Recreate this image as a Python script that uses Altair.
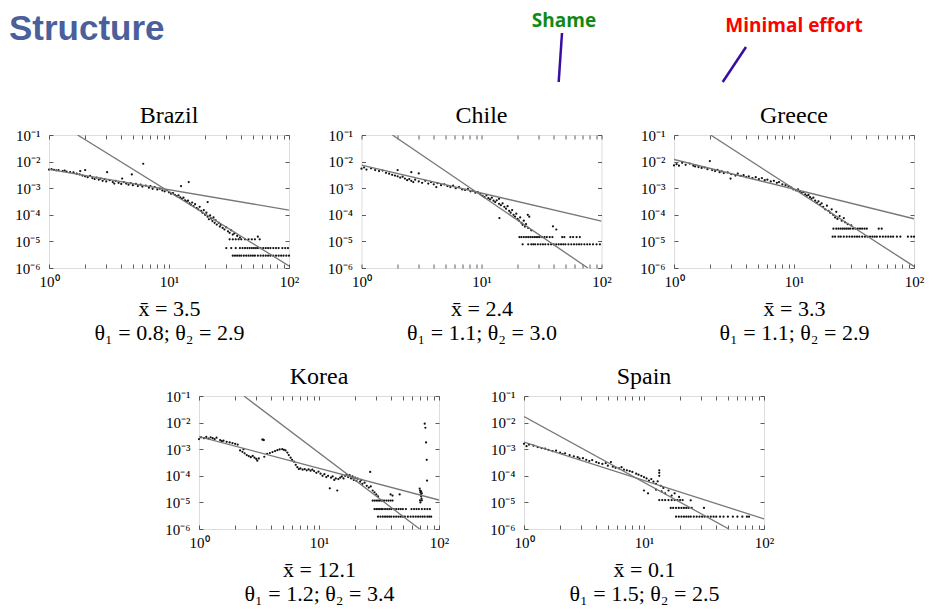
import altair as alt
import pandas as pd

# ---------------- data ----------------
COUNTRIES = ["Brazil", "Chile", "Greece", "Korea", "Spain"]
MEAN_X = ["3.5", "2.4", "3.3", "12.1", "0.1"]
THETA1 = ["0.8", "1.1", "1.1", "1.2", "1.5"]
THETA2 = ["2.9", "3.0", "2.9", "3.4", "2.5"]

X_TICKS = [1, 2, 3, 4, 5, 6, 7, 8, 9, 10, 20, 30, 40, 50, 60, 70, 80, 90, 100]
Y_TICKS = [1e-6, 1e-5, 1e-4, 1e-3, 1e-2, 1e-1]

# fitted power-law lines (end points, as drawn)
FIT1 = {
    "Brazil": [(1, 5.1e-3), (100, 1.5e-4)],
    "Chile": [(1, 7.4e-3), (100, 5.8e-5)],
    "Greece": [(1, 1.2e-2), (100, 7.1e-5)],
    "Korea": [(1, 3.0e-3), (100, 1.23e-5)],
    "Spain": [(1, 1.85e-3), (100, 2.4e-6)],
}
FIT2 = {
    "Brazil": [(1.73, 0.1), (100, 1.2e-6)],
    "Chile": [(1.81, 0.1), (77, 1e-6)],
    "Greece": [(2.02, 0.1), (100, 1.15e-6)],
    "Korea": [(2.37, 0.1), (69, 1e-6)],
    "Spain": [(1, 1.7e-2), (51, 1e-6)],
}

BRAZIL_PTS = [
    (1.0, 5.0e-3), (1.05, 5.2e-3), (1.1, 4.9e-3), (1.15, 4.7e-3), (1.2, 4.8e-3), (1.3, 4.4e-3),
    (1.35, 4.6e-3), (1.4, 4.2e-3), (1.5, 4.0e-3), (1.6, 3.9e-3), (1.7, 3.5e-3), (1.8, 3.3e-3),
    (1.82, 4.4e-3), (1.9, 3.0e-3), (2.0, 2.8e-3), (2.0, 4.8e-3), (2.1, 2.6e-3), (2.2, 2.9e-3),
    (2.3, 2.4e-3), (2.4, 2.2e-3), (2.5, 2.5e-3), (2.6, 2.1e-3), (2.7, 2.3e-3), (2.8, 1.9e-3),
    (2.9, 2.2e-3), (3.05, 4.0e-3), (3.0, 1.8e-3), (3.2, 2.0e-3), (3.4, 1.7e-3), (3.5, 1.5e-3),
    (3.6, 1.9e-3), (3.8, 1.6e-3), (4.0, 1.45e-3), (4.07, 2.3e-3), (4.2, 1.7e-3), (4.4, 1.5e-3),
    (4.6, 1.35e-3), (4.9, 3.3e-3), (4.8, 1.55e-3), (5.0, 1.3e-3), (5.3, 1.45e-3), (5.5, 1.2e-3),
    (5.8, 1.35e-3), (6.1, 8.3e-3), (6.0, 1.15e-3), (6.4, 1.25e-3), (6.8, 1.05e-3), (7.0, 1.2e-3),
    (7.3, 9.5e-4), (7.6, 1.1e-3), (8.0, 9.0e-4), (8.4, 9.6e-4), (8.8, 8.2e-4), (9.2, 7.6e-4),
    (9.6, 8.4e-4), (10, 7.0e-4), (10.4, 6.2e-4), (10.8, 6.6e-4), (11.2, 5.6e-4), (11.6, 5.0e-4),
    (12.0, 5.4e-4), (12.6, 1.2e-3), (12.4, 4.5e-4), (12.8, 4.0e-4), (13.2, 4.4e-4), (13.6, 3.5e-4),
    (14.0, 3.1e-4), (14.6, 1.7e-3), (14.4, 3.4e-4), (14.8, 2.7e-4), (15.2, 2.4e-4), (15.6, 2.9e-4),
    (16.0, 2.1e-4), (16.5, 2.5e-4), (17.0, 1.8e-4), (17.5, 1.6e-4), (18.0, 2.0e-4), (18.5, 1.4e-4),
    (19.0, 1.2e-4), (19.5, 1.5e-4), (20, 1.0e-4), (20.5, 1.2e-4), (21, 3.0e-4), (21, 8.5e-5),
    (21.5, 6.8e-5), (22, 9.5e-5), (22.5, 7.2e-5), (23, 5.8e-5), (23.5, 8.0e-5), (24, 5.0e-5),
    (24.5, 6.2e-5), (25, 4.3e-5), (26, 5.0e-5), (26.5, 3.6e-5), (27, 4.2e-5), (28, 3.2e-5),
    (29, 2.8e-5), (30, 3.4e-5), (31, 2.4e-5), (32, 2.1e-5), (33, 2.6e-5), (34, 1.8e-5),
    (35, 2.0e-5), (37, 1.6e-5), (39, 1.4e-5), (55, 1.5e-5), (93, 5.6e-6),
    (32, 1.2e-5), (34, 1.2e-5), (36, 1.2e-5), (38, 1.2e-5), (40, 1.2e-5), (43, 1.2e-5),
    (46, 1.2e-5), (49, 1.2e-5), (52, 1.2e-5), (57, 1.2e-5),
    (30, 5.6e-6), (33, 5.6e-6), (36, 5.6e-6), (39, 5.6e-6), (41, 5.6e-6), (43, 5.6e-6),
    (45, 5.6e-6), (47, 5.6e-6), (49, 5.6e-6), (51, 5.6e-6), (53, 5.6e-6), (55, 5.6e-6),
    (58, 5.6e-6), (61, 5.6e-6), (64, 5.6e-6), (67, 5.6e-6), (70, 5.6e-6), (74, 5.6e-6),
    (78, 5.6e-6), (82, 5.6e-6), (88, 5.6e-6), (98, 5.6e-6),
    (34, 2.9e-6), (35.5, 2.9e-6), (37, 2.9e-6), (38.5, 2.9e-6), (40, 2.9e-6), (42, 2.9e-6),
    (44, 2.9e-6), (46, 2.9e-6), (48, 2.9e-6), (50, 2.9e-6), (52, 2.9e-6), (55, 2.9e-6),
    (58, 2.9e-6), (61, 2.9e-6), (64, 2.9e-6), (67, 2.9e-6), (70, 2.9e-6), (74, 2.9e-6),
    (78, 2.9e-6), (82, 2.9e-6), (86, 2.9e-6), (90, 2.9e-6), (95, 2.9e-6), (100, 2.9e-6),
]

CHILE_PTS = [
    (1.0, 5.4e-3), (1.05, 6.0e-3), (1.1, 5.0e-3), (1.2, 5.6e-3), (1.3, 4.8e-3), (1.4, 4.4e-3),
    (1.5, 4.6e-3), (1.6, 3.8e-3), (1.7, 3.5e-3), (1.8, 3.2e-3), (1.9, 3.0e-3), (2.0, 4.8e-3),
    (2.0, 2.8e-3), (2.1, 2.5e-3), (2.2, 2.7e-3), (2.3, 2.3e-3), (2.4, 2.0e-3), (2.5, 2.2e-3),
    (2.6, 4.0e-3), (2.6, 1.9e-3), (2.7, 1.7e-3), (2.8, 2.1e-3), (3.0, 3.6e-3), (3.0, 1.8e-3),
    (3.2, 1.6e-3), (3.4, 1.9e-3), (3.6, 1.5e-3), (3.8, 1.7e-3), (4.0, 1.4e-3), (4.2, 1.1e-3),
    (4.3, 1.55e-3), (4.6, 1.3e-3), (4.9, 1.4e-3), (5.2, 1.2e-3), (5.5, 1.1e-3), (5.8, 1.25e-3),
    (6.1, 1.0e-3), (6.5, 1.1e-3), (6.9, 9.0e-4), (7.3, 8.6e-4), (7.7, 9.4e-4), (8.1, 7.6e-4),
    (8.5, 8.0e-4), (8.9, 6.8e-4), (9.3, 7.2e-4), (9.8, 6.0e-4), (10.2, 5.2e-4), (10.6, 4.6e-4),
    (11.0, 5.4e-4), (11.4, 4.2e-4), (11.8, 3.8e-4), (12.2, 4.4e-4), (12.6, 3.4e-4), (13.0, 3.0e-4),
    (13.4, 3.5e-4), (14.0, 4.0e-4), (14.0, 2.6e-4), (14.1, 7.5e-5), (14.5, 2.3e-4), (15.0, 2.7e-4),
    (15.5, 2.0e-4), (16.0, 1.7e-4), (16.5, 2.1e-4), (17.0, 1.4e-4), (17.5, 1.2e-4), (18.0, 1.5e-4),
    (18.5, 1.0e-4), (19.0, 8.5e-5), (19.5, 1.1e-4), (20.0, 7.0e-5), (20.5, 6.0e-5), (21.0, 8.0e-5),
    (21.5, 5.0e-5), (22, 4.2e-5), (22.5, 6.0e-5), (23, 3.6e-5), (23.5, 4.5e-5), (24.3, 1.0e-4),
    (24.5, 3.2e-5), (25, 8.5e-5), (26, 2.6e-5), (39.4, 3.7e-5), (42, 2.8e-5),
    (20.7, 1.45e-5), (21.5, 1.45e-5), (22.5, 1.45e-5), (23.5, 1.45e-5), (24.5, 1.45e-5),
    (25.5, 1.45e-5), (26.5, 1.45e-5), (27.5, 1.45e-5), (28.5, 1.45e-5), (29.5, 1.45e-5),
    (30.5, 1.45e-5), (32, 1.45e-5), (33.5, 1.45e-5), (35, 1.45e-5), (37, 1.45e-5), (39, 1.45e-5),
    (47, 1.45e-5), (49, 1.45e-5), (55, 1.45e-5), (58, 1.45e-5), (62, 1.45e-5), (66, 1.45e-5),
    (22, 7.8e-6), (24.5, 7.8e-6), (26, 7.8e-6), (27, 7.8e-6), (28, 7.8e-6), (29.5, 7.8e-6),
    (31, 7.8e-6), (32.5, 7.8e-6), (34, 7.8e-6), (36, 7.8e-6), (38, 7.8e-6), (40, 7.8e-6),
    (42, 7.8e-6), (44, 7.8e-6), (46, 7.8e-6), (48, 7.8e-6), (50, 7.8e-6), (53, 7.8e-6),
    (56, 7.8e-6), (59, 7.8e-6), (62, 7.8e-6), (65, 7.8e-6), (68, 7.8e-6), (72, 7.8e-6),
    (76, 7.8e-6), (80, 7.8e-6), (85, 7.8e-6), (91, 7.8e-6), (97, 7.8e-6),
]

GREECE_PTS = [
    (1.0, 7.2e-3), (1.05, 8.0e-3), (1.1, 7.0e-3), (1.17, 9.0e-3), (1.25, 7.6e-3), (1.35, 8.4e-3),
    (1.45, 7.0e-3), (1.5, 6.6e-3), (1.6, 6.2e-3), (1.7, 5.8e-3), (1.8, 6.0e-3), (1.9, 5.2e-3),
    (1.99, 1.05e-2), (2.08, 4.8e-3), (2.2, 4.4e-3), (2.3, 4.9e-3), (2.4, 4.0e-3), (2.5, 4.3e-3),
    (2.6, 3.7e-3), (2.8, 3.9e-3), (2.96, 2.3e-3), (3.0, 3.4e-3), (3.25, 3.0e-3), (3.4, 3.5e-3),
    (3.6, 2.9e-3), (3.8, 3.1e-3), (4.0, 2.6e-3), (4.2, 2.8e-3), (4.5, 2.4e-3), (4.8, 2.6e-3),
    (5.1, 2.2e-3), (5.4, 2.4e-3), (5.7, 2.0e-3), (6.0, 2.1e-3), (6.4, 1.8e-3), (6.8, 1.9e-3),
    (7.2, 1.6e-3), (7.5, 1.7e-3), (8.0, 1.4e-3), (8.5, 1.3e-3), (9.0, 1.2e-3), (9.5, 1.05e-3),
    (9.9, 9.0e-4), (10.4, 8.2e-4), (10.8, 9.0e-4), (11.2, 7.4e-4), (11.6, 6.6e-4), (12.0, 7.2e-4),
    (12.4, 5.8e-4), (12.8, 5.2e-4), (13.2, 5.6e-4), (13.6, 4.6e-4), (14.0, 4.0e-4), (14.5, 4.4e-4),
    (15.0, 3.4e-4), (15.5, 2.8e-4), (16.0, 3.2e-4), (16.5, 2.4e-4), (17.0, 2.7e-4), (17.5, 2.0e-4),
    (18.2, 1.6e-4), (18.8, 2.2e-4), (19.4, 1.4e-4), (20.0, 1.2e-4), (20.6, 1.6e-4), (21.2, 1.0e-4),
    (22.0, 8.0e-5), (22.5, 1.3e-4), (23, 7.0e-5), (24, 9.0e-5), (25, 6.0e-5), (26, 7.5e-5),
    (26.7, 5.2e-5), (28, 4.5e-5), (30, 4.0e-5),
    (21.3, 3e-5), (22.5, 3e-5), (23.5, 3e-5), (24.5, 3e-5), (25.5, 3e-5), (26.5, 3e-5),
    (27.5, 3e-5), (28.5, 3e-5), (29.5, 3e-5), (31, 3e-5), (32.5, 3e-5), (34, 3e-5),
    (35.5, 3e-5), (37, 3e-5), (38.7, 3e-5), (40.4, 3e-5), (50.8, 3e-5), (53.8, 3e-5),
    (21, 1.5e-5), (22, 1.5e-5), (23.5, 1.5e-5), (24.5, 1.5e-5), (26, 1.5e-5), (27.5, 1.5e-5),
    (29, 1.5e-5), (30.5, 1.5e-5), (32, 1.5e-5), (33.5, 1.5e-5), (35, 1.5e-5), (37, 1.5e-5),
    (39, 1.5e-5), (41, 1.5e-5), (43, 1.5e-5), (45, 1.5e-5), (47, 1.5e-5), (49, 1.5e-5),
    (52, 1.5e-5), (55, 1.5e-5), (58, 1.5e-5), (61, 1.5e-5), (64, 1.5e-5), (67, 1.5e-5),
    (72, 1.5e-5), (77, 1.5e-5), (89, 1.5e-5), (95, 1.5e-5), (100, 1.5e-5),
]

KOREA_PTS = [
    (1.0, 2.4e-3), (1.04, 2.8e-3), (1.1, 2.6e-3), (1.15, 2.9e-3), (1.2, 2.5e-3), (1.25, 2.8e-3),
    (1.3, 2.6e-3), (1.35, 2.4e-3), (1.4, 2.7e-3), (1.5, 2.2e-3), (1.55, 2.0e-3), (1.6, 2.1e-3),
    (1.7, 1.9e-3), (1.8, 1.8e-3), (1.9, 1.7e-3), (2.0, 1.6e-3), (2.1, 1.5e-3), (2.2, 9.0e-4),
    (2.3, 8.0e-4), (2.35, 1.0e-3), (2.4, 7.0e-4), (2.5, 6.0e-4), (2.6, 5.5e-4), (2.7, 5.0e-4),
    (2.8, 5.6e-4), (2.9, 4.8e-4), (3.0, 4.3e-4), (3.06, 3.7e-4), (3.15, 4.5e-4), (3.37, 2.3e-3),
    (3.42, 2.3e-3), (3.47, 2.2e-3), (3.5, 5.2e-4), (3.7, 6.7e-4), (3.9, 7.2e-4), (4.1, 7.8e-4),
    (4.3, 8.5e-4), (4.5, 9.2e-4), (4.7, 9.8e-4), (4.94, 1.0e-3), (5.1, 9.5e-4), (5.26, 9.0e-4),
    (5.45, 7.5e-4), (5.6, 6.0e-4), (5.8, 4.8e-4), (5.96, 4.0e-4), (6.2, 3.4e-4), (6.4, 2.6e-4),
    (6.6, 2.1e-4), (6.8, 1.8e-4), (7.0, 1.9e-4), (7.3, 1.7e-4), (7.6, 1.8e-4), (7.9, 1.6e-4),
    (8.2, 1.75e-4), (8.5, 1.55e-4), (8.8, 1.7e-4), (9.1, 1.5e-4), (9.5, 1.3e-4), (9.9, 1.45e-4),
    (10.3, 1.2e-4), (10.7, 1.0e-4), (11.1, 1.15e-4), (11.5, 9.0e-5), (11.9, 1.0e-4), (12.3, 3.4e-5),
    (12.6, 8.5e-5), (13.0, 9.5e-5), (13.4, 7.0e-5), (13.8, 8.0e-5), (14.2, 2.8e-5), (14.5, 7.5e-5),
    (15.0, 8.5e-5), (15.5, 9.5e-5), (16.0, 8.0e-5), (16.5, 1.0e-4), (17.0, 1.1e-4), (17.5, 9.0e-5),
    (18.0, 1.05e-4), (18.5, 8.0e-5), (19.0, 9.5e-5), (19.5, 7.0e-5), (20, 8.5e-5), (20.5, 6.5e-5),
    (21, 7.8e-5), (22, 6.0e-5), (22.5, 7.0e-5), (23, 5.0e-5), (24, 5.5e-5), (25, 4.2e-5),
    (26, 3.6e-5), (26.7, 1.4e-4), (27, 4.0e-5), (28, 2.8e-5), (29, 2.4e-5), (30, 2.0e-5),
    (31, 1.7e-5), (39.5, 2.0e-5), (41, 1.8e-5), (47, 2.0e-5),
    (28, 1.17e-5), (29, 1.17e-5), (30, 1.17e-5), (31, 1.17e-5), (32, 1.17e-5), (33, 1.17e-5),
    (34, 1.17e-5), (35, 1.17e-5), (36.5, 1.17e-5), (38, 1.17e-5), (39.5, 1.17e-5), (41, 1.17e-5),
    (29, 5.6e-6), (30, 5.6e-6), (31, 5.6e-6), (32, 5.6e-6), (33, 5.6e-6), (34, 5.6e-6),
    (35.5, 5.6e-6), (37, 5.6e-6), (38.5, 5.6e-6), (40, 5.6e-6), (42, 5.6e-6), (44, 5.6e-6),
    (46, 5.6e-6), (48, 5.6e-6), (50, 5.6e-6), (53, 5.6e-6), (59, 5.6e-6), (62, 5.6e-6),
    (65, 5.6e-6), (68, 5.6e-6), (72, 5.6e-6), (76, 5.6e-6), (80, 5.6e-6), (84, 5.6e-6),
    (31, 2.9e-6), (32.5, 2.9e-6), (34, 2.9e-6), (35.5, 2.9e-6), (37, 2.9e-6), (38.5, 2.9e-6),
    (40, 2.9e-6), (42, 2.9e-6), (44, 2.9e-6), (46, 2.9e-6), (48, 2.9e-6), (50, 2.9e-6),
    (52, 2.9e-6), (55, 2.9e-6), (58, 2.9e-6), (61, 2.9e-6), (64, 2.9e-6), (67, 2.9e-6),
    (70, 2.9e-6), (73, 2.9e-6), (76, 2.9e-6), (80, 2.9e-6), (83, 2.9e-6), (86, 2.9e-6),
    (69, 3.3e-5), (69.5, 2.8e-5), (70, 2.4e-5), (70.5, 2.0e-5), (71, 1.7e-5), (71.5, 1.4e-5),
    (72, 1.2e-5), (69.5, 1.2e-5), (70, 1.0e-5), (71, 2.6e-5), (72, 2.2e-5),
    (76, 9.1e-3), (77, 6.4e-3), (78, 1.8e-3), (79, 4.0e-4), (79.5, 6.6e-5),
]

SPAIN_PTS = [
    (1.0, 1.6e-3), (1.05, 1.3e-3), (1.1, 1.5e-3), (1.2, 1.35e-3), (1.3, 1.2e-3), (1.4, 1.1e-3),
    (1.5, 1.05e-3), (1.6, 9.5e-4), (1.73, 8.5e-4), (1.85, 8.8e-4), (2.0, 7.4e-4), (2.1, 6.6e-4),
    (2.2, 7.0e-4), (2.4, 6.0e-4), (2.6, 5.4e-4), (2.8, 5.0e-4), (2.9, 4.4e-4), (3.1, 4.6e-4),
    (3.3, 4.0e-4), (3.5, 3.6e-4), (3.7, 3.9e-4), (4.0, 3.3e-4), (4.2, 3.0e-4), (4.5, 2.8e-4),
    (4.8, 3.0e-4), (5.0, 2.4e-4), (5.3, 3.3e-4), (5.5, 2.2e-4), (5.8, 2.0e-4), (6.2, 1.9e-4),
    (6.5, 2.1e-4), (6.8, 1.7e-4), (7.2, 1.6e-4), (7.6, 1.5e-4), (8.0, 1.4e-4), (8.6, 1.2e-4),
    (9.0, 1.1e-4), (9.5, 1.0e-4), (10.0, 9.0e-5), (10.0, 2.8e-5), (10.5, 8.0e-5), (10.8, 2.2e-5),
    (11.0, 6.6e-5), (11.5, 7.5e-5), (12.0, 6.0e-5), (12.6, 5.0e-5), (12.6, 3.0e-5), (13.0, 6.2e-5),
    (13.4, 1.6e-4), (13.4, 1.3e-4), (13.4, 1.0e-4), (13.8, 4.2e-5), (14.0, 2.6e-5), (14.5, 3.5e-5),
    (15.0, 2.2e-5), (16.0, 2.8e-5), (17, 1.8e-5), (18, 2.2e-5), (19.6, 1.6e-5), (24.5, 1.2e-5),
    (13.4, 1.23e-5), (14.2, 1.23e-5), (15, 1.23e-5), (16, 1.23e-5), (17, 1.23e-5), (18, 1.23e-5),
    (19, 1.23e-5), (20, 1.23e-5), (21, 1.23e-5),
    (16.7, 6.2e-6), (17.5, 6.2e-6), (18.5, 6.2e-6), (19.5, 6.2e-6), (20.5, 6.2e-6), (21.5, 6.2e-6),
    (22.5, 6.2e-6), (23.5, 6.2e-6), (25, 6.2e-6), (31.6, 6.2e-6),
    (18.5, 2.9e-6), (19.5, 2.9e-6), (20.5, 2.9e-6), (21.5, 2.9e-6), (22.5, 2.9e-6), (23.5, 2.9e-6),
    (24.5, 2.9e-6), (26, 2.9e-6), (27.5, 2.9e-6), (29, 2.9e-6), (30.5, 2.9e-6), (32, 2.9e-6),
    (34, 2.9e-6), (36, 2.9e-6), (38, 2.9e-6), (40, 2.9e-6), (43, 2.9e-6), (46, 2.9e-6),
    (50, 2.9e-6), (55, 2.9e-6), (60, 2.9e-6), (66, 2.9e-6), (72, 2.9e-6), (75, 2.9e-6),
]

POINTS = {"Brazil": BRAZIL_PTS, "Chile": CHILE_PTS, "Greece": GREECE_PTS,
          "Korea": KOREA_PTS, "Spain": SPAIN_PTS}

SLIDE_TITLE = "Structure"
NOTE_1 = "Shame"
NOTE_2 = "Minimal effort"

# ---------------- styling ----------------
SERIF = "Liberation Serif"
W, H = 240, 133

X_LABEL = ("abs(log(datum.value)/LN10 - round(log(datum.value)/LN10)) < 0.01 ? "
           "'10' + ['⁰','¹','²'][round(log(datum.value)/LN10)] : ''")
Y_LABEL = "'10' + ['⁻⁶','⁻⁵','⁻⁴','⁻³','⁻²','⁻¹'][round(log(datum.value)/LN10) + 6]"


def panel(name):
    i = COUNTRIES.index(name)
    caption = ["x̄  =  " + MEAN_X[i], "θ₁  =  " + THETA1[i] + ";   θ₂  =  " + THETA2[i]]
    pts = pd.DataFrame(POINTS[name], columns=["x", "y"])
    fits = pd.DataFrame([(x, y, "a") for x, y in FIT1[name]] +
                        [(x, y, "b") for x, y in FIT2[name]], columns=["x", "y", "fit"])
    xs = alt.Scale(type="log", domain=[1, 100], nice=False)
    ys = alt.Scale(type="log", domain=[1e-6, 1e-1], nice=False)

    ax_bottom = alt.Axis(orient="bottom", values=X_TICKS, labelExpr=X_LABEL, domain=False,
                         grid=False, tickSize=4, offset=-4, tickColor="#333", tickWidth=0.8,
                         labelPadding=6, labelFont=SERIF, labelFontSize=15, labelColor="black",
                         labelFlush=False, labelOverlap=False, title=caption, titleFont=SERIF,
                         titleFontSize=22, titleFontWeight="normal", titleColor="black",
                         titleLineHeight=24.5, titlePadding=9)
    ax_left = alt.Axis(orient="left", values=Y_TICKS, labelExpr=Y_LABEL, domain=False, grid=False,
                       tickSize=4, offset=-4, tickColor="#333", tickWidth=0.8, labelPadding=9,
                       labelFont=SERIF, labelFontSize=15, labelColor="black", labelFlush=False,
                       labelOverlap=False, minExtent=40, maxExtent=40, title=None)
    ax_top = alt.Axis(orient="top", values=X_TICKS, labels=False, domain=False, grid=False,
                      tickSize=4, offset=-4, tickColor="#333", tickWidth=0.8, title=None,
                      minExtent=0, maxExtent=0)
    ax_right = alt.Axis(orient="right", values=Y_TICKS, labels=False, domain=False, grid=False,
                        tickSize=4, offset=-4, tickColor="#333", tickWidth=0.8, title=None,
                        minExtent=0, maxExtent=0)

    dots = alt.Chart(pts).mark_circle(size=5, color="#111", opacity=1).encode(
        x=alt.X("x:Q", scale=xs, axis=ax_bottom),
        y=alt.Y("y:Q", scale=ys, axis=ax_left),
    )
    lines = alt.Chart(fits).mark_line(color="#777", strokeWidth=1.3, clip=True).encode(
        x=alt.X("x:Q", scale=xs, axis=ax_top),
        y=alt.Y("y:Q", scale=ys, axis=ax_right),
        detail="fit:N",
    )
    return alt.layer(dots, lines).resolve_axis(x="independent", y="independent").properties(
        width=W, height=H,
        title=alt.TitleParams(name, font=SERIF, fontSize=24, fontWeight="normal",
                              color="black", offset=0),
    )


# header (its origin sits above the first plot's left edge, 40px in from the page margin)
hdr = pd.DataFrame({"t": [SLIDE_TITLE]})
title_mark = alt.Chart(hdr).mark_text(
    font="Liberation Sans", fontSize=35, fontWeight="bold", color="#4A5F9C",
    align="left", baseline="top").encode(text="t:N", x=alt.value(-40), y=alt.value(3))
n1 = alt.Chart(pd.DataFrame({"t": [NOTE_1]})).mark_text(
    font="Open Sans", fontSize=19, fontWeight="bold", color="#128A12",
    align="center", baseline="middle").encode(text="t:N", x=alt.value(515), y=alt.value(12))
n2 = alt.Chart(pd.DataFrame({"t": [NOTE_2]})).mark_text(
    font="Open Sans", fontSize=19, fontWeight="bold", color="#FF0000",
    align="center", baseline="middle").encode(text="t:N", x=alt.value(745), y=alt.value(17))
r1 = alt.Chart(hdr).mark_rule(color="#3A0CA3", strokeWidth=2.5).encode(
    x=alt.value(513), x2=alt.value(509.7), y=alt.value(24), y2=alt.value(73))
r2 = alt.Chart(hdr).mark_rule(color="#3A0CA3", strokeWidth=2.5).encode(
    x=alt.value(697), x2=alt.value(673.7), y=alt.value(38), y2=alt.value(73))
header = alt.layer(title_mark, n1, n2, r1, r2).properties(
    width=840, height=76, view=alt.ViewBackground(stroke="transparent"))

# empty spacer that shifts the second row to the right
spacer = alt.Chart(pd.DataFrame({"t": [""]})).mark_text().encode(text="t:N").properties(
    width=75, height=10, view=alt.ViewBackground(stroke="transparent"))

row1 = alt.hconcat(panel("Brazil"), panel("Chile"), panel("Greece"), spacing=24.5)
row2 = alt.hconcat(spacer, panel("Korea"), panel("Spain"), spacing=37)
rows = alt.vconcat(row1, row2, spacing=20)

chart = alt.vconcat(header, rows, spacing=17).properties(padding=0).configure_view(
    stroke="#333", strokeWidth=1).configure(background="white")

chart.save("out.html", embed_options={"renderer": "svg", "actions": False})
